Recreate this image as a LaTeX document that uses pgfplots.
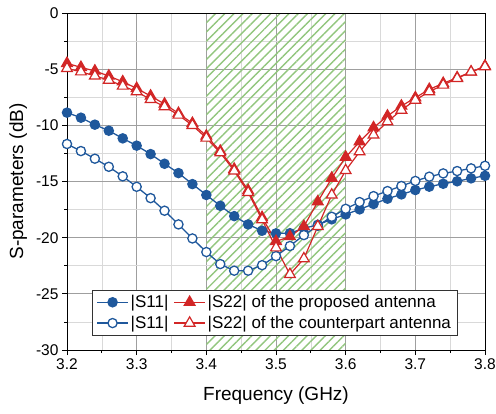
\documentclass[border=0pt]{standalone}
\usepackage{fontspec}
\setmainfont{Liberation Sans}
\usepackage{pgfplots}
\pgfplotsset{compat=1.18}
\usetikzlibrary{patterns.meta}

\definecolor{sblue}{RGB}{31,88,156}
\definecolor{sred}{RGB}{210,38,38}
\definecolor{hatchgreen}{RGB}{146,198,126}

% proposed antenna
\pgfplotstableread{
f s11 s22
3.20 -8.87 -4.48
3.22 -9.32 -4.84
3.24 -9.94 -5.16
3.26 -10.48 -5.61
3.28 -11.16 -6.12
3.30 -11.81 -6.71
3.32 -12.56 -7.39
3.34 -13.42 -8.10
3.36 -14.25 -8.93
3.38 -15.23 -9.82
3.40 -16.20 -10.95
3.42 -17.16 -12.30
3.44 -18.08 -13.90
3.46 -18.82 -15.80
3.48 -19.38 -18.20
3.50 -19.62 -20.33
3.52 -19.60 -19.90
3.54 -19.17 -19.00
3.56 -18.85 -16.80
3.58 -18.37 -14.70
3.60 -17.93 -12.83
3.62 -17.48 -11.46
3.64 -17.00 -10.21
3.66 -16.53 -9.17
3.68 -16.15 -8.28
3.70 -15.76 -7.54
3.72 -15.46 -6.80
3.74 -15.20 -6.26
3.76 -14.98 -5.76
3.78 -14.72 -5.25
3.80 -14.49 -4.72
}\proposed

% counterpart antenna
\pgfplotstableread{
f s11 s22
3.20 -11.66 -4.93
3.22 -12.29 -5.23
3.24 -12.97 -5.60
3.26 -13.69 -5.97
3.28 -14.54 -6.50
3.30 -15.47 -7.00
3.32 -16.48 -7.70
3.34 -17.60 -8.34
3.36 -18.82 -9.08
3.38 -20.07 -10.00
3.40 -21.28 -11.13
3.42 -22.35 -12.44
3.44 -22.94 -14.05
3.46 -22.94 -15.97
3.48 -22.45 -18.40
3.50 -21.64 -20.90
3.52 -20.74 -23.27
3.54 -19.77 -21.87
3.56 -18.94 -19.00
3.58 -18.14 -16.20
3.60 -17.43 -14.02
3.62 -16.83 -12.35
3.64 -16.30 -10.86
3.66 -15.85 -9.68
3.68 -15.40 -8.64
3.70 -14.95 -7.75
3.72 -14.57 -7.00
3.74 -14.28 -6.41
3.76 -14.07 -5.82
3.78 -13.83 -5.25
3.80 -13.60 -4.78
}\counterpart

\begin{document}
\begin{tikzpicture}
\begin{axis}[
  scale only axis,
  width=418bp, height=337bp,
  xmin=3.2, xmax=3.8, ymin=-30, ymax=0,
  xtick={3.2,3.3,...,3.81}, ytick={-30,-25,...,0},
  minor x tick num=1, minor y tick num=1,
  xticklabel style={/pgf/number format/fixed, /pgf/number format/precision=1},
  /pgf/number format/assume math mode=true,
  tick align=outside, tick pos=left,
  major tick length=5bp, minor tick length=3bp,
  every tick/.style={black, line width=0.8bp},
  grid=both,
  major grid style={gray!75, line width=0.7bp},
  minor grid style={gray!30, line width=0.6bp},
  axis line style={black, line width=1bp},
  tick label style={font=\fontsize{15.5bp}{18bp}\selectfont},
  label style={font=\fontsize{19bp}{22bp}\selectfont},
  xlabel={Frequency (GHz)},
  ylabel={S-parameters (dB)},
  xlabel style={at={(axis description cs:0.5,-0.134)}, anchor=center},
  ylabel style={at={(axis description cs:-0.117,0.5)}, anchor=center},
  legend columns=2,
  legend style={at={(axis description cs:0.06,0.178)}, anchor=north west,
    draw=black!80, line width=0.7bp, fill=white,
    font=\fontsize{17bp}{20bp}\selectfont,
    inner xsep=4bp, inner ysep=3bp, row sep=3bp,
    /tikz/every even column/.append style={column sep=3bp}},
  legend cell align=left,
  legend image code/.code={
    \draw[#1] (0bp,0bp) -- (31bp,0bp);
    \draw[#1, only marks] plot coordinates {(15.5bp,0bp)};
  },
]
\addplot[draw=none, mark=none, pattern={Lines[angle=45, distance=6.5bp, line width=1.4bp]},
  pattern color=hatchgreen, forget plot]
  coordinates {(3.4,-30) (3.6,-30) (3.6,0) (3.4,0)} -- cycle;

\addplot[sblue, line width=1.3bp, mark=*, mark size=4.6bp,
  mark options={solid, fill=sblue}] table[x=f, y=s11] {\proposed};
\addlegendentry{|S11|}
\addplot[sred, line width=1.2bp, mark=triangle*, mark size=6.2bp,
  mark options={solid, fill=sred}] table[x=f, y=s22] {\proposed};
\addlegendentry{|S22| of the proposed antenna}
\addplot[sblue, line width=1.3bp, mark=*, mark size=4.6bp,
  mark options={solid, fill=white}] table[x=f, y=s11] {\counterpart};
\addlegendentry{|S11|}
\addplot[sred, line width=1.2bp, mark=triangle*, mark size=6.2bp,
  mark options={solid, fill=white}] table[x=f, y=s22] {\counterpart};
\addlegendentry{|S22| of the counterpart antenna}

\draw[black, line width=1bp] (rel axis cs:0,0) rectangle (rel axis cs:1,1);
\end{axis}
\pgfresetboundingbox
\path (current axis.south west) ++(-67bp,-63bp) coordinate (bbsw);
\path (current axis.north east) ++(11bp,13bp) coordinate (bbne);
\path[use as bounding box] (bbsw) rectangle (bbne);
\end{tikzpicture}
\end{document}
